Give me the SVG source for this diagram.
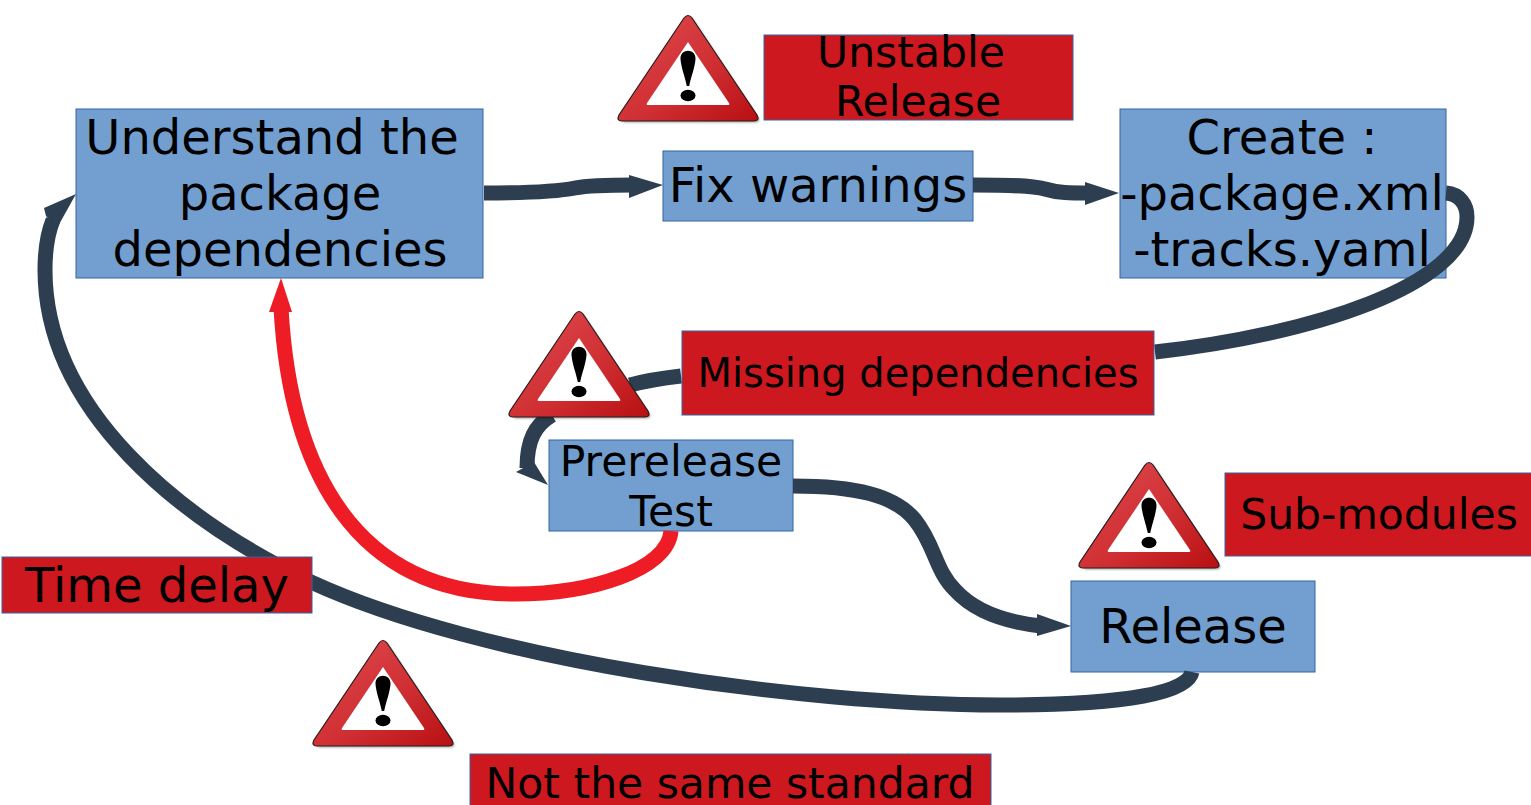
<svg xmlns="http://www.w3.org/2000/svg" width="1531" height="805" viewBox="0 0 1531 805">
<style>
text{font-family:"DejaVu Sans",sans-serif;fill:#000;text-anchor:middle}
.b{fill:#729fcf;stroke:#3465a4;stroke-width:1}
.r{fill:#cc181e;stroke:#3465a4;stroke-width:1}
.c{fill:none;stroke:#2c3e50;stroke-width:15}
.h{fill:#2c3e50}
.f{fill:none;stroke:#ee1c25;stroke-width:15}
.t{font-size:48px}
.m{font-size:42.500px}
</style>
<defs>
<linearGradient id="g" x1="0" y1="0" x2="1" y2="1"><stop offset="0" stop-color="#de4a4e"/><stop offset="0.55" stop-color="#d03034"/><stop offset="1" stop-color="#b80f12"/></linearGradient>
<filter id="s" x="-10%" y="-10%" width="120%" height="120%"><feGaussianBlur stdDeviation="1.2"/></filter>
<g id="warn">
<path d="M-66 104Q-70 106-70 103L-4 3Q0 -3 4 3L70 103Q70 106 66 106H-66Z" fill="#000" opacity=".35" transform="translate(1.500,1.500)" filter="url(#s)"/>
<path d="M-66 106Q-72 106-69 100L-4 3Q0 -2 4 3L69 100Q72 106 66 106Z" fill="url(#g)" stroke="#2a1a1a" stroke-width="1.200"/>
<path d="M0 27L41 88Q42 90 40 90H-40Q-42 90-41 88Z" fill="#fff"/>
<path d="M-7.500 44C-8 33 8 33 7.500 44C7 52 3 62 1.200 71H-1.200C-3 62-7 52-7.500 44Z" fill="#000"/>
<ellipse cx="0" cy="80.500" rx="7.500" ry="5.800" fill="#000"/>
</g>
</defs>
<g id="node-understand"><rect class="b" x="76" y="109" width="407" height="169"/>
<text class="t" x="272" y="154">Understand the</text><text class="t" x="280" y="210">package</text><text class="t" x="280" y="266">dependencies</text></g>
<g id="node-fix"><rect class="b" x="663" y="151" width="310" height="70"/><text class="t" x="818" y="202">Fix warnings</text></g>
<g id="node-create"><rect class="b" x="1120" y="109" width="326" height="169"/>
<text class="t" x="1282" y="154">Create :</text><text class="t" x="1282" y="210">-package.xml</text><text class="t" x="1282" y="266">-tracks.yaml</text></g>
<g id="node-prerelease"><rect class="b" x="549" y="440" width="244" height="91"/>
<text class="m" x="671" y="476">Prerelease</text><text class="m" x="671" y="526">Test</text></g>
<g id="node-release"><rect class="b" x="1071" y="581" width="244" height="91"/><text class="t" x="1193" y="643">Release</text></g>
<g id="connectors">
<path class="c" d="M484 193C530 193 555 192 575 188C590 185 610 185 634 185"/>
<path class="h" d="M629 175L663 185L629 198Z"/>
<path class="c" d="M973 185C1000 185 1030 185 1045 189C1058 193 1070 193 1090 193"/>
<path class="h" d="M1085 182L1119 193L1085 205Z"/>
<path class="c" d="M1446 193C1460 194 1467 205 1467 217C1467 285 1310 335 1155 352"/>
<path class="c" d="M681 376C655 379 645 381 630 385"/>
<path class="c" d="M552 415C535 425 527 440 527 468"/>
<path class="h" d="M516 472L534 462L548 485Z"/>
<path class="c" d="M793 486C855 486 895 495 915 520C935 545 935 570 955 590C975 612 1005 622 1041 626"/>
<path class="h" d="M1037 614L1071 626L1037 636Z"/>
<path class="c" d="M1192 672C1188 692 1130 705 1000 705C800 705 480 660 311 582C180 520 45 410 45 270C45 250 47 235 53 220"/>
<path class="h" d="M44 208L76 194L57 228L46 216Z"/>
<path class="f" d="M671 531C668 570 590 594 515 594C355 594 290 470 281 308"/>
<path d="M269 312L281 278L292 312Z" fill="#ee1c25"/>
</g>
<g id="risk-unstable"><use href="#warn" x="688" y="15"/><rect class="r" x="764" y="35" width="309" height="85"/>
<text class="m" x="911" y="67">Unstable</text><text class="m" x="918" y="116">Release</text></g>
<g id="risk-missing"><use href="#warn" x="579" y="311"/><rect class="r" x="682" y="331" width="472" height="84"/><text x="918" y="387" font-size="40">Missing dependencies</text></g>
<g id="risk-submodules"><use href="#warn" x="1149" y="462"/><rect class="r" x="1225" y="473" width="307" height="83"/><text class="m" x="1379" y="529">Sub-modules</text></g>
<g id="risk-delay"><rect class="r" x="2" y="557" width="310" height="56"/><text class="t" x="157" y="602">Time delay</text></g>
<g id="risk-standard"><use href="#warn" x="383" y="640"/><rect class="r" x="470" y="754" width="521" height="60"/><text class="m" x="730" y="798">Not the same standard</text></g>
</svg>
